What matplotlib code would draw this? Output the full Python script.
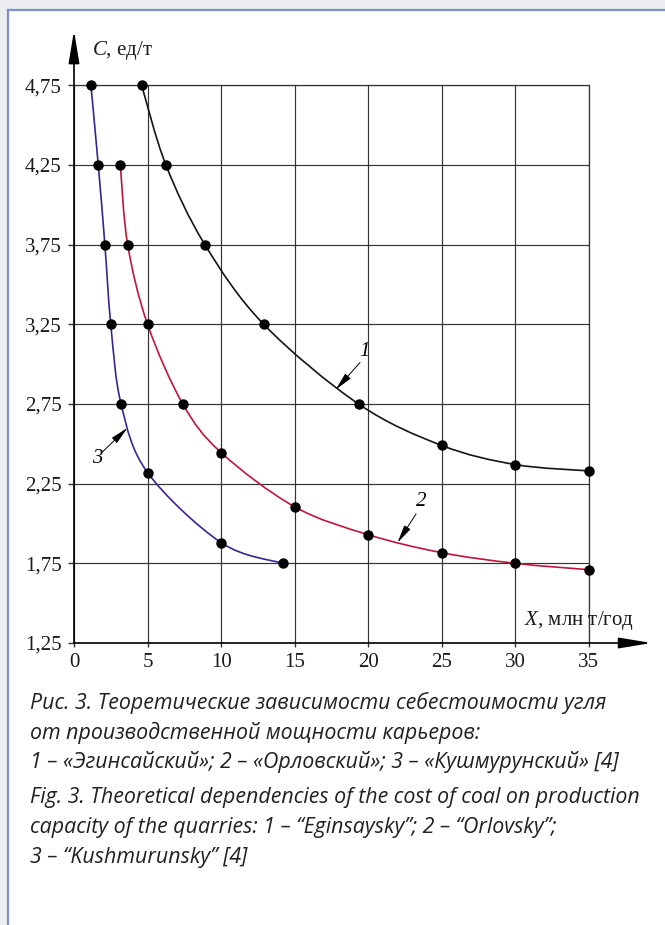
import matplotlib.pyplot as plt
import matplotlib.patches as patch
from matplotlib.path import Path
import numpy as np

plt.rcParams['mathtext.fontset'] = 'custom'
plt.rcParams['mathtext.rm'] = 'Liberation Serif'
plt.rcParams['mathtext.it'] = 'Liberation Serif:italic'

# cost of coal C vs. output X for the three quarries
x_egin = [4.6, 6.25, 8.9, 12.9, 19.35, 25, 30, 35]
c_egin = [4.75, 4.25, 3.75, 3.25, 2.75, 2.49, 2.37, 2.33]

x_orlov = [3.15, 3.65, 5.0, 7.4, 10, 15, 20, 25, 30, 35]
c_orlov = [4.25, 3.75, 3.25, 2.75, 2.445, 2.105, 1.93, 1.817, 1.75, 1.71]

x_kush = [1.15, 1.65, 2.1, 2.5, 3.2, 5, 10, 14.2]
c_kush = [4.75, 4.25, 3.75, 3.25, 2.75, 2.32, 1.88, 1.75]

xticks = [0, 5, 10, 15, 20, 25, 30, 35]
yticks = [1.25, 1.75, 2.25, 2.75, 3.25, 3.75, 4.25, 4.75]
xtick_labels = ['0', '5', '10', '15', '20', '25', '30', '35']
ytick_labels = ['1,25', '1,75', '2,25', '2,75', '3,25', '3,75', '4,25', '4,75']

caption = [
    'Рис. 3. Теоретические зависимости себестоимости угля',
    'от производственной мощности карьеров:',
    '1 – «Эгинсайский»; 2 – «Орловский»; 3 – «Кушмурунский» [4]',
    'Fig. 3. Theoretical dependencies of the cost of coal on production',
    'capacity of the quarries: 1 – “Eginsaysky”; 2 – “Orlovsky”;',
    '3 – “Kushmurunsky” [4]',
]

W, H = 665, 925
fig = plt.figure(figsize=(W / 100, H / 100), dpi=100)
fig.patch.set_facecolor('#eceef1')


def fx(px):
    return px / W


def fy(py):
    return 1 - py / H


# white page with blue rule on top and left
fig.patches.append(patch.Rectangle((fx(8), 0), 1 - fx(8), fy(10), transform=fig.transFigure,
                                   facecolor='white', edgecolor='none', zorder=-1))
fig.add_artist(plt.Line2D([fx(8), 1], [fy(10), fy(10)], transform=fig.transFigure,
                          color='#7d93c8', lw=1.6, zorder=-0.5))
fig.add_artist(plt.Line2D([fx(8), fx(8)], [0, fy(10)], transform=fig.transFigure,
                          color='#7d93c8', lw=1.6, zorder=-0.5))

ax = fig.add_axes([fx(74), fy(643), fx(588.7) - fx(74), fy(85.3) - fy(643)])
ax.set_facecolor('none')
ax.set_xlim(0, 35)
ax.set_ylim(1.25, 4.75)

ax.set_xticks(xticks)
ax.set_xticklabels(xtick_labels)
ax.set_yticks(yticks)
ax.set_yticklabels(ytick_labels)
for lab in ax.get_xticklabels() + ax.get_yticklabels():
    lab.set_family('Liberation Serif')
    lab.set_fontsize(15)
    lab.set_color('#1a1a1a')
ax.tick_params(axis='x', direction='out', length=3, width=1, color='#333333', pad=4)
ax.tick_params(axis='y', direction='out', length=4, width=1, color='#333333', pad=5)
ax.grid(True, color='#333333', lw=0.85)
for s in ['left', 'bottom']:
    ax.spines[s].set_visible(False)
for s in ['top', 'right']:
    ax.spines[s].set_color('#333333')
    ax.spines[s].set_linewidth(0.9)

# axes with arrow heads
arrow = dict(arrowstyle='-|>,head_length=2.0,head_width=0.33', lw=1.2, color='black',
             shrinkA=0, shrinkB=0)
ax.annotate('', xy=(0, 1.098), xytext=(0, 0), xycoords='axes fraction',
            textcoords='axes fraction', arrowprops=arrow, annotation_clip=False)
ax.annotate('', xy=(1.122, 0), xytext=(0, 0), xycoords='axes fraction',
            textcoords='axes fraction', arrowprops=arrow, annotation_clip=False)

fig.text(fx(92), fy(50), '$C$, ед/т', family='Liberation Serif', fontsize=15,
         va='center', ha='left', color='#1a1a1a')
fig.text(fx(524), fy(620), '$X$, млн т/год', family='Liberation Serif', fontsize=15,
         va='center', ha='left', color='#1a1a1a')


def smooth_path(xs, ys):
    # Catmull-Rom through the points, built as cubic Bezier segments in display space
    p = ax.transData.transform(np.column_stack([xs, ys]))
    p = np.vstack([p[0], p, p[-1]])
    verts = [p[1]]
    codes = [Path.MOVETO]
    for i in range(1, len(p) - 2):
        c1 = p[i] + (p[i + 1] - p[i - 1]) / 6
        c2 = p[i + 1] - (p[i + 2] - p[i]) / 6
        verts += [c1, c2, p[i + 1]]
        codes += [Path.CURVE4] * 3
    verts = ax.transData.inverted().transform(np.array(verts))
    return Path(verts, codes)


series = [(x_egin, c_egin, '#141414'), (x_orlov, c_orlov, '#c0163c'), (x_kush, c_kush, '#3b2391')]
for xs, ys, col in series:
    ax.add_patch(patch.PathPatch(smooth_path(xs, ys), facecolor='none', edgecolor=col,
                                 lw=1.2, zorder=3))
    ax.plot(xs, ys, 'o', color='black', ms=6.5, zorder=4, clip_on=False)

# curve numbers with leader arrows (label, arrow tip, arrow tail, label position)
lead = dict(arrowstyle='-|>,head_length=1.1,head_width=0.22', lw=0.7, color='black',
            shrinkA=0, shrinkB=0)
for num, tip, tail, pos in [('1', (17.8, 2.84), (19.45, 3.01), (19.75, 3.08)),
                            ('2', (22.0, 1.88), (23.26, 2.06), (23.6, 2.14)),
                            ('3', (3.64, 2.60), (1.94, 2.45), (1.6, 2.41))]:
    ax.annotate('', xy=tip, xytext=tail, arrowprops=lead, zorder=5)
    ax.text(pos[0], pos[1], num, fontsize=15, family='Liberation Serif', style='italic',
            ha='center', va='center', zorder=5)

ys_cap = [703, 733, 762, 797, 827, 857]
for line, py in zip(caption, ys_cap):
    fig.text(fx(30), fy(py), line, family='Open Sans', style='italic', fontsize=15.4,
             color='#231f20', va='center', ha='left')

fig.savefig('out.png', dpi=100, facecolor=fig.get_facecolor())
